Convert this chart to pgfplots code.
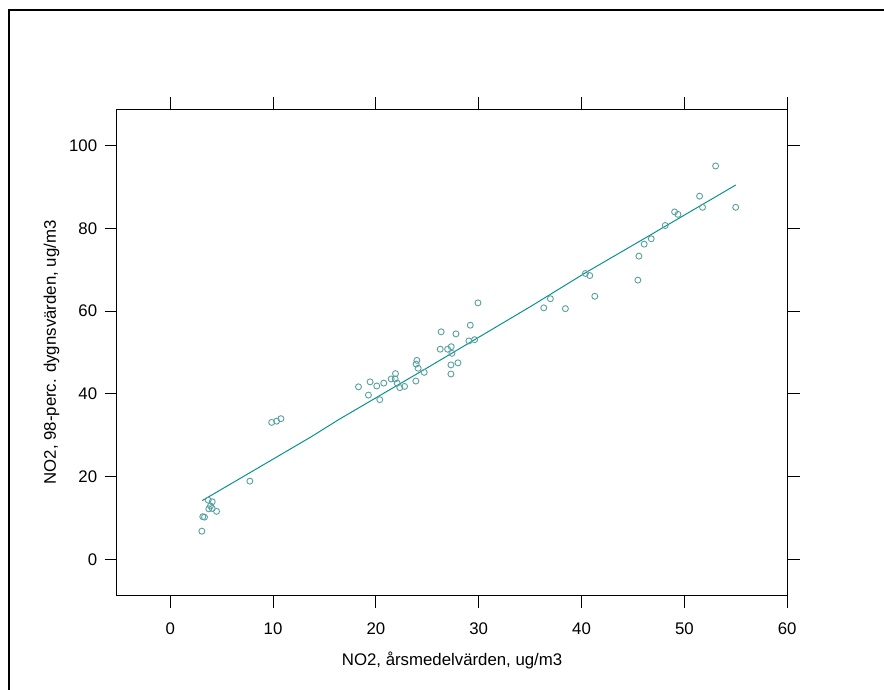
\documentclass[border=0pt]{standalone}
\usepackage{pgfplots}
\pgfplotsset{compat=1.18}
\usepackage{fontspec}
\setmainfont{Liberation Sans}
\definecolor{ptcol}{RGB}{90,160,160}
\definecolor{lncol}{RGB}{10,145,145}
\begin{document}
\begin{tikzpicture}[x=1pt,y=1pt]
\useasboundingbox (0,0) rectangle (884,689);
\draw[line width=1.2pt] (9,-5) -- (9,679) -- (890,679);
\begin{axis}[
  at={(116.7pt,93.3pt)}, anchor=south west,
  scale only axis, width=670.8pt, height=486.4pt,
  xmin=-5.2, xmax=60.03, ymin=-8.8, ymax=108.8,
  xtick={0,10,20,30,40,50,60}, ytick={0,20,40,60,80,100},
  tick align=outside, xtick pos=both, ytick pos=both,
  xticklabel pos=lower, yticklabel pos=left,
  major tick length=12pt,
  every tick/.style={black, line width=0.8pt},
  axis line style={line width=1.5pt},
  minor tick num=0,
  /pgf/number format/assume math mode=true,
  font=\fontsize{16.8}{20}\selectfont,
  xticklabel style={yshift=-11.5pt},
  yticklabel style={xshift=-4pt},
  xlabel={NO2, årsmedelvärden, ug/m3},
  ylabel={NO2, 98-perc. dygnsvärden, ug/m3},
  xlabel style={at={(axis description cs:0.5,-0.1322)}, anchor=center},
  ylabel style={at={(axis description cs:-0.0970,0.5)}, anchor=center},
  clip=false,
]
\addplot[only marks, mark=o, mark size=3pt, mark options={line width=0.9pt, draw=ptcol}] coordinates {
(9.87,33.1) (10.35,33.4) (10.77,34.0) (7.75,18.9)
(3.70,14.3) (4.09,13.9) (3.92,12.9) (3.76,12.2) (4.09,12.3) (4.51,11.6)
(3.17,10.3) (3.34,10.2) (3.08,6.8)
(29.93,62.0) (29.18,56.6) (26.35,55.0) (27.79,54.5) (29.05,52.8) (29.6,53.1)
(26.26,50.8) (26.98,50.8) (27.33,51.4) (27.40,49.8) (27.98,47.5) (27.3,47.0)
(27.3,44.8) (23.99,48.1) (23.92,47.2) (24.11,46.2) (24.7,45.2) (23.89,43.1)
(21.91,44.9) (21.49,43.6) (21.88,43.6) (22.07,42.6) (22.33,41.5) (22.79,41.8)
(20.77,42.6) (20.09,41.9) (19.44,42.9) (18.31,41.7) (19.28,39.7) (20.38,38.6)
(53.04,95.1) (51.48,87.8) (51.77,85.1) (54.99,85.1) (49.05,84.0) (49.38,83.4)
(48.14,80.7) (46.78,77.5) (46.09,76.2) (45.58,73.3) (45.48,67.5)
(40.38,69.1) (40.80,68.6) (41.29,63.6) (36.97,63.0) (36.33,60.8) (38.43,60.6)
};
\addplot[lncol, line width=1pt] coordinates {
(3.12,14.2) (8,21.3) (13.7,29.6) (16.4,33.8) (25,46.3) (35.1,61.2) (40.4,69.3) (46,77.4) (55,90.5)
};
\end{axis}
\end{tikzpicture}
\end{document}
